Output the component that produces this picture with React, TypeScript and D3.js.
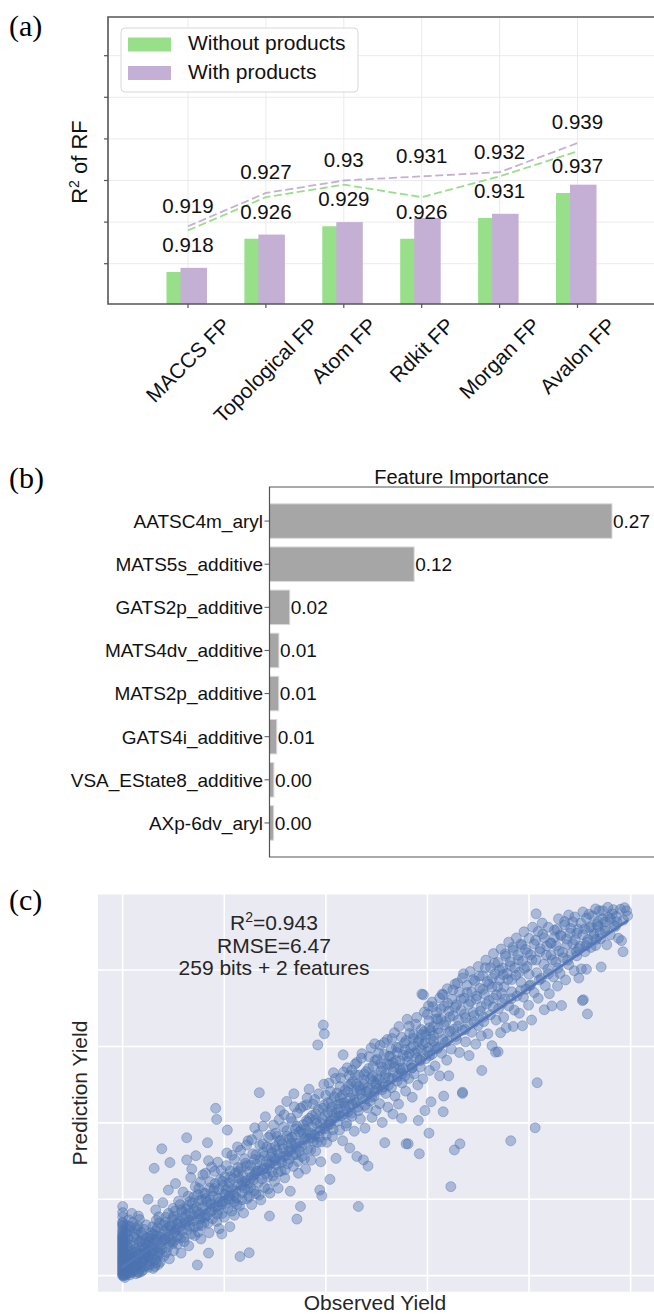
import React, { useEffect, useRef } from 'react';
import * as d3 from 'd3';

const WIDTH = 654;
const HEIGHT = 1314;
const SANS = '"Liberation Sans", Arial, Helvetica, sans-serif';
const SERIF = '"Liberation Serif", "Times New Roman", Times, serif';

// (a) R2 of random forest per fingerprint
const fingerprints = ['MACCS FP', 'Topological FP', 'Atom FP', 'Rdkit FP', 'Morgan FP', 'Avalon FP'];
const withoutProducts = [0.918, 0.926, 0.929, 0.926, 0.931, 0.937];
const withProducts = [0.919, 0.927, 0.93, 0.931, 0.932, 0.939];
const r2Ticks = [0.92, 0.93, 0.94, 0.95, 0.96, 0.97];
const legendLabels = ['Without products', 'With products'];

// (b) feature importance
const features = [
  'AATSC4m_aryl', 'MATS5s_additive', 'GATS2p_additive', 'MATS4dv_additive',
  'MATS2p_additive', 'GATS4i_additive', 'VSA_EState8_additive', 'AXp-6dv_aryl',
];
const importances = [0.274, 0.1157, 0.0162, 0.0075, 0.0074, 0.0058, 0.0035, 0.0033];

// (c) observed vs predicted yield
const yieldTicks = [0, 20, 40, 60, 80, 100];
const fitIntercept = 2.3;
const fitSlope = 0.912;
const fitExtent = [0, 99.3];
const r2Text = '0.943';
const statLines = ['RMSE=6.47', '259 bits + 2 features'];

// [observed, predicted]: outliers and the spread of the band
const yieldPoints: [number, number][] = [
  [0, 0], [0, 1], [0, 2], [0, 3], [0, 4], [0, 5], [0, 6], [0, 7], [0, 8], [0, 9], [0, 10], [0, 11], [0, 12],
  [0, 0.5], [0, 1.5], [0, 2.5], [0, 3.5], [0, 4.5], [0, 5.5], [0, 6.5], [0, 7.5], [0, 8.5], [0, 9.5], [0, 10.5],
  [0, 11.5], [0, 12.8], [0, 14], [0, 18.1], [0.3, 0], [0.5, 1], [0.6, 2.2], [0.8, 3.4], [1, 0.6], [1, 4.8],
  [1.2, 6.3], [1.3, 1.8], [1.5, 8], [1.6, 2.9], [1.8, 0.9], [1.8, 16.3], [2, 5.2], [2.1, 10.2], [2.2, 3.8],
  [2.4, 1.4], [2.5, 7], [2.7, 2.5], [2.9, 12], [3, 4.4], [3.1, 15.6], [3.2, 0.8], [3.3, 8.8], [3.5, 2],
  [3.6, 5.8], [3.8, 3.2], [4, 10.5], [4, 1.5], [4.2, 6.9], [4.4, 4.3], [4.6, 13.3], [4.8, 2.6], [5, 20], [5, 8],
  [5.2, 5.1], [5.4, 3], [5.6, 11.2], [5.8, 6.4], [6, 1.9], [6.2, 28.1], [6.2, 9.2], [6.4, 4.2], [6.6, 14.5],
  [6.8, 7.3], [7, 2.9], [0.2, 0.4], [0.4, 2.8], [0.5, 5.9], [0.7, 1.2], [0.9, 7.8], [1.1, 3], [1.4, 0.2],
  [1.6, 4.5], [1.9, 2.1], [2.3, 6], [2.6, 0.5], [2.8, 4], [3.1, 2.8], [3.4, 6.6], [3.7, 1.1], [4, 3.7],
  [4.3, 5.5], [4.5, 8.6], [4.9, 4.9], [5.1, 2.2], [5.7, 7.6], [6.9, 5.1], [7.5, 7.9], [8.2, 9.4], [9.1, 10.1],
  [9.8, 8.4], [10.5, 11.9], [11.4, 9.8], [12.4, 13.4], [13.1, 14.6], [14.1, 12.7], [15.3, 14.9], [16.5, 15.7],
  [17.6, 17], [18.6, 18.2], [19.7, 19.4], [20.8, 20.1], [21.9, 21], [23.4, 23.6], [24.6, 22.6], [26.1, 26.7],
  [27.8, 28], [29.3, 29.5], [31, 30.2], [32.7, 32.5], [34.2, 33.6], [36, 35.9], [37.7, 37], [39.4, 38.5],
  [41, 40.5], [42.6, 41.9], [44.3, 42.8], [46, 45.3], [47.8, 46.3], [49.6, 48.2], [51.4, 49.4], [53.1, 51.6],
  [55, 52.9], [56.9, 54.3], [58.6, 56.3], [60.4, 57.6], [62.1, 59.8], [63.9, 61.4], [65.6, 62.6], [67.4, 64.4],
  [69.2, 66.3], [71, 67.7], [72.9, 70.3], [74.7, 71.3], [76.5, 72.5], [78.3, 74.6], [80.1, 75.9], [82, 77.4],
  [83.8, 79], [85.7, 80.5], [87.6, 82.6], [89.3, 84.8], [91.2, 86.4], [93.2, 88], [95, 90.9], [97, 91.4],
  [5.3, 3.9], [5.5, 9.6], [5.9, 12.8], [6.1, 5.6], [6.3, 2.4], [6.5, 17.2], [6.7, 10.4], [7, 6.2], [7.2, 13.8],
  [7.4, 3.6], [7.7, 33.2], [7.6, 8.9], [7.9, 19.1], [8.1, 5.1], [8.3, 11.6], [8.5, 15.3], [8.8, 7.4], [9, 22.4],
  [9.2, 4.4], [9.3, 29.6], [9.4, 13], [9.6, 9.2], [9.9, 17.6], [10, 6.5], [10.2, 11.3],
  [10.4, 24.1], [10.6, 14.7], [10.8, 8.2], [11, 19.5], [11.2, 12.6], [11.5, 5.9], [11.7, 16.8], [11.9, 21.9],
  [12.1, 10], [12.3, 14], [12.6, 36.1], [12.6, 30.3], [12.8, 18.3], [13, 7.8], [13.2, 12.9], [13.4, 25.7],
  [13.6, 27.9], [13.8, 15.6], [14, 20.6], [14.2, 10.5], [14.4, 31.4], [14.5, 17.9], [14.7, 2.8], [14.8, 13.1],
  [15, 22.8], [15.2, 16.2], [15.4, 9.6], [15.6, 19.8], [15.8, 26.4], [16, 13.7], [16.2, 21.5], [16.4, 17.4],
  [16.7, 34.8], [16.9, 30.1], [16.9, 5.9], [17, 11.2], [17.2, 24.6], [17.4, 18.8], [17.7, 14.9], [17.9, 22.2],
  [18.1, 27.3], [18.3, 43.8], [18.5, 40.9], [18.6, 16.1], [18.8, 20.3], [19, 12.3], [19.2, 25.1], [19.5, 10.9],
  [19.5, 18.7], [19.8, 23.6], [20, 15.3], [20.2, 21.2], [20.4, 28.8], [20.6, 38.1], [20.7, 17.6], [21, 24.3],
  [21.1, 12.8], [21.3, 19.9], [21.5, 31.5], [21.7, 22.6], [22, 15.8], [22.2, 26.9], [22.4, 20.4], [22.6, 33.7],
  [22.8, 23.9], [23.1, 5], [23, 18.2], [23.3, 28.2], [23.5, 21.7], [23.8, 16.4], [24, 30.6], [24.2, 24.8],
  [24.5, 20.1], [24.9, 6], [24.7, 35.3], [25, 27.2], [25.2, 22.9], [25.4, 18.6], [25.6, 31.9], [25.8, 26.3],
  [26, 38.7], [26.2, 21.4], [26.4, 29.2], [26.7, 24.4], [26.9, 47.9], [27, 34.1], [27.2, 19.8], [27.4, 27.7],
  [27.6, 32.3], [27.9, 23.1], [28.1, 41.6], [28.3, 29.9], [28.5, 25.8], [28.9, 15.6], [28.7, 36.2], [29, 21.6],
  [29.2, 31.1], [29.4, 27.2], [29.7, 39.4], [29.9, 24.7], [30, 33.8], [30.2, 29], [30.4, 36.5], [30.6, 22.9],
  [30.8, 31.8], [31, 43.2], [31.2, 27.4], [31.4, 34.3], [31.7, 38.9], [31.9, 25.6], [32.1, 31.4], [32.3, 45.6],
  [32.5, 29.3], [32.8, 35.8], [33, 22.1], [33.2, 33], [33.4, 40.3], [33.7, 47.6], [33.6, 28.6], [33.9, 36.9],
  [34.1, 31.7], [34.3, 14.8], [34.4, 42.6], [34.6, 26.8], [34.8, 34.7], [35, 18.1], [35.1, 38.2], [35.3, 31.2],
  [35.5, 44.3], [35.7, 35.6], [36, 27.9], [36.2, 44.7], [36.2, 40.6], [36.4, 33.1], [36.7, 48.8], [36.9, 37.4],
  [37.1, 30.2], [37.3, 41.9], [37.6, 35.2], [37.8, 46.1], [38, 32.6], [38.2, 39.8], [38.4, 60.4], [38.5, 43.5],
  [38.8, 22.4], [38.7, 36.3], [39, 29.8], [39.2, 20.9], [39.3, 41.1], [39.5, 65.6], [39.7, 63.3], [39.8, 38.4],
  [40, 47.2], [40.2, 34.9], [40.4, 42.7], [40.8, 25.2], [40.6, 50.4], [40.9, 39.6], [41.1, 45.5], [41.3, 36.4],
  [41.5, 53.1], [41.8, 41.3], [42, 30.7], [42.2, 47.8], [42.4, 43.6], [42.7, 38.1], [42.9, 51.7], [43.1, 45.1],
  [43.4, 57.8], [43.3, 35.3], [43.6, 42.4], [43.8, 48.6], [44, 39.2], [44.2, 54.4], [44.5, 44.8], [44.7, 33.4],
  [44.9, 50.2], [45.1, 53.8], [45.1, 41.7], [45.4, 47.4], [45.6, 37.8], [45.8, 52.6], [46.1, 55.8], [46.1, 31.2],
  [46.3, 44.1], [46.4, 18.1], [46.5, 49.6], [46.8, 41], [47, 56.9], [47.2, 46.3], [47.4, 30.3], [47.5, 51.3],
  [47.7, 38.6], [48, 48.2], [48.3, 28.7], [48.2, 43.9], [48.4, 54.2], [48.7, 45.7], [48.9, 59.6], [49.1, 41.4],
  [49.3, 50.9], [49.5, 47], [49.7, 56.3], [49.9, 43.2], [50, 52.4], [50.2, 48.8], [50.4, 58.3], [50.6, 45],
  [50.9, 53.6], [51.1, 40.1], [51.3, 50.3], [51.6, 34.8], [51.5, 61], [51.8, 47.7], [52, 55.4], [52.2, 44.1],
  [52.4, 51.8], [52.7, 57.5], [53, 62.1], [52.9, 49.2], [53.2, 42.3], [53.4, 54.6], [53.6, 47], [53.9, 59.8],
  [54.1, 52.1], [54.4, 65.2], [54.3, 44.9], [54.6, 56.2], [54.9, 41.2], [55, 50.4], [55.2, 54.3], [55.5, 60.9],
  [55.8, 34.5], [55.7, 48.3], [56, 67.1], [56, 57.4], [56.2, 34.5], [56.3, 51.6], [56.5, 63.4], [56.8, 55.2],
  [57, 46.7], [57.2, 60.2], [57.4, 52.8], [57.7, 65.8], [57.9, 57.1], [58.2, 40.6], [58.1, 49.9], [58.4, 31.9],
  [58.3, 61.8], [58.6, 54.6], [58.9, 73.7], [58.8, 59.1], [59.2, 73.5], [59.1, 51.5], [59.5, 43.2], [59.4, 63.9],
  [59.7, 56.8], [60, 68.4], [60.2, 70.6], [60.1, 59.6], [60.3, 37.3], [60.4, 53.7], [60.7, 45.5], [60.6, 64.1],
  [60.9, 57.9], [61.1, 70.4], [61.2, 61.3], [61.5, 54.9], [61.7, 67.2], [61.9, 59.4], [62.2, 63.5], [62.4, 52.3],
  [62.6, 69.8], [62.9, 73.7], [62.8, 58.2], [63.1, 42.9], [63.1, 73.5], [63.2, 47], [63.3, 65.6], [63.5, 61.1],
  [63.8, 56.4], [64, 71.3], [64.2, 52.3], [64.2, 63.8], [64.4, 67.7], [64.6, 23.3], [64.7, 59.3], [65, 74.8],
  [65.3, 32.9], [65.2, 64.5], [65.4, 70.2], [65.7, 61.8], [65.9, 76.6], [66.1, 66.9], [66.4, 34.5], [66.3, 58.4],
  [66.6, 72.3], [66.9, 47.7], [66.9, 48], [66.8, 64.2], [67.1, 79], [67.3, 68.5], [67.5, 61.2], [67.8, 74.1],
  [68, 66], [68.2, 57.6], [68.5, 71.7], [68.7, 63.7], [69, 77.5], [69.2, 68.1], [69.5, 60.6], [69.7, 73.2],
  [70, 65.5], [70.2, 78.4], [70.4, 69.2], [70.7, 53.7], [70.6, 62.8], [70.9, 74.9], [71.1, 66.5], [71.4, 80.6],
  [71.6, 71.1], [71.9, 63.3], [72.1, 76.3], [72.4, 68.3], [72.8, 77.9], [72.7, 60.2], [73, 72.6], [73.4, 58.5],
  [73.2, 81.8], [73.5, 66.9], [73.9, 58.6], [73.8, 75.6], [74.2, 80], [74, 69.9], [74.4, 63.6], [74.6, 73.9],
  [74.9, 78.8], [75, 67.6], [75.3, 84.2], [75.2, 72.4], [75.5, 64.9], [75.8, 77.5], [76, 70.6], [76.4, 35.3],
  [76.3, 81.1], [76.6, 74.3], [76.9, 65.2], [76.8, 85.9], [77.1, 69.5], [77.4, 78.6], [77.6, 73.2], [77.9, 82.7],
  [78.1, 68.7], [78.7, 65.4], [78.4, 76.8], [78.6, 86.5], [78.9, 72.9], [79.1, 80.4], [79.4, 75], [79.7, 84.5],
  [79.9, 70.8], [80, 78.9], [80.5, 66.9], [80.3, 76.1], [80.6, 82.6], [81, 74.1], [81.2, 38.7], [81.4, 94.7],
  [81.6, 50.5], [81.3, 87.8], [81.5, 79.3], [81.8, 72.6], [82.1, 84.8], [82.4, 77.8], [82.7, 89.4], [83, 69.6],
  [82.9, 81.5], [83.2, 75.9], [83.5, 86.3], [83.7, 80.2], [84.4, 87], [84, 73.8], [84.3, 83.9], [84.5, 70.6],
  [84.8, 78.2], [85, 88.6], [85.3, 82.1], [85.6, 75.8], [85.5, 90.7], [85.9, 85], [86.1, 79.1], [86.4, 70.7],
  [86.3, 88.9], [86.7, 83.2], [87, 91.8], [87.2, 77.4], [87.5, 86.7], [87.8, 81.4], [88.1, 89.6], [88.3, 84.3],
  [88.6, 92.6], [88.9, 79.8], [89.1, 87.9], [89.4, 83.7], [89.8, 77.9], [89.7, 90.6], [90, 86.2], [90.3, 80.3],
  [90.5, 72], [90.7, 72.2], [90.6, 89.2], [91, 84.8], [91.3, 93.6], [91.3, 80.2], [91.5, 68.5], [91.6, 88],
  [91.9, 91.1], [92.2, 85.9], [92.5, 94.2], [92.8, 89.5], [93.1, 86.4], [93.4, 91.9], [93.6, 91.4], [93.8, 95.5],
  [94.2, 80.8], [94.1, 88.2], [94.5, 93.4], [94.9, 90.3], [95.3, 86.6], [95.6, 93.8], [96, 89.2], [96.4, 94.7],
  [96.8, 91.6], [97.2, 94], [97.6, 88.3], [98.2, 87.7], [98.5, 84.8], [98.6, 93.1], [99.2, 95.5], [99.4, 94.2],
];

// [observed, predicted], the dense core of the band
const yieldPointsCore: [number, number][] = [
  [0, 0.2], [0, 1.2], [0, 2.2], [0, 3.2], [0, 4.2], [0, 5.2], [0, 6.2], [0, 7.2], [0, 8.2], [0, 9.2], [0, 10.2],
  [0, 13.2], [0, 15.4], [0.4, -0.5], [0.6, 0.3], [0.8, 1.6], [1, 2.4], [1.2, 3.9], [1.3, 5.2], [1.5, 0.8],
  [1.7, 6.8], [1.9, 3.3], [2.1, 1.5], [2.2, 8.4], [2.4, 4.6], [2.6, 2.6], [2.8, 9.6], [3, 0.9], [3.2, 5.7],
  [3.4, 3.5], [3.6, 11.3], [3.8, 7.5], [4.1, 2.3], [4.3, 4.7], [4.6, 6.1], [4.8, 9.9], [0.3, 6.9], [0.5, 8.8],
  [0.7, 11.2], [0.9, 13.1], [1.1, 9.5], [1.4, 11.8], [2, 13.9], [2.6, 12.5], [3.3, 14.7], [4.2, 12.1],
  [5.1, 6.7], [5.4, 10.3], [5.6, 4.5], [5.9, 8.3], [6.2, 6.9], [6.4, 11.7], [6.6, 3.4], [6.9, 9.4], [7.1, 15.4],
  [7.3, 5.8], [7.5, 11], [7.8, 7.1], [8, 13.2], [8.3, 9.7], [8.6, 6.1], [8.8, 12.4], [9, 16.3], [9.3, 8.8],
  [9.5, 11.9], [9.8, 14.7], [10.1, 9.1], [10.3, 16.9], [10.6, 12.2], [10.9, 10.4], [11.1, 14.3], [11.3, 18.6],
  [11.6, 11.6], [11.9, 15.1], [12.1, 8.9], [12.4, 17.5], [12.7, 12], [12.9, 20.8], [13.2, 16.4], [13.5, 10.9],
  [13.7, 19], [14, 14.4], [14.3, 23.3], [14.6, 16.8], [14.9, 11.4], [15, 19.6],
  [15.3, 24.5], [15.5, 13.1], [15.7, 17.9], [15.9, 21.7], [16.1, 15.2], [16.3, 26.8], [16.6, 19.3], [16.8, 13.8],
  [17.1, 22.9], [17.3, 16.6], [17.5, 28.4], [17.8, 20.8], [18, 18], [18.2, 24.1], [18.5, 14.2], [18.7, 29.7],
  [18.9, 22.5], [19.1, 19.3], [19.4, 27.6], [19.6, 16.3], [19.9, 21.3], [20.1, 25.9], [20.3, 18.9], [20.5, 32.1],
  [20.8, 23.2], [21, 20.9], [21.2, 27.4], [21.5, 16.9], [21.7, 25.4], [22, 30.4], [22.3, 22.1], [22.5, 18.6],
  [22.7, 28.3], [22.9, 25.5], [23.2, 32.8], [23.5, 19.9], [23.7, 26.2], [24, 22.8], [24.2, 29.4], [24.4, 34.2],
  [24.7, 24.2], [24.9, 20.7], [25.2, 28.9], [25.4, 35.6], [25.7, 25], [25.9, 22.2], [26.2, 31.6], [26.4, 27.4],
  [26.6, 36.9], [26.9, 21.1], [27.1, 30.3], [27.4, 25.3], [27.6, 39.1], [27.9, 31.4], [28.1, 26.6], [28.4, 33.7],
  [28.6, 22.7], [28.9, 29.1], [29.1, 36.8], [29.4, 32.2], [29.6, 26.1], [29.9, 30.7],
  [30.1, 37.3], [30.3, 32.9], [30.6, 27.1], [30.8, 40.8], [31.1, 35.5], [31.3, 29.6], [31.6, 33.2], [31.8, 42.1],
  [32, 27.7], [32.3, 37.9], [32.6, 33.8], [32.8, 30.4], [33.1, 41.2], [33.3, 36.2], [33.5, 31.5], [33.8, 44.2],
  [34, 34.6], [34.3, 39.1], [34.5, 29.9], [34.8, 37.6], [35, 43.8], [35.2, 33.9], [35.5, 39.5], [35.8, 30.6],
  [36, 38.3], [36.3, 46.5], [36.6, 35.8], [36.8, 41.2], [37, 32.9], [37.3, 38.9], [37.5, 44.9], [37.8, 36.7],
  [38, 42.3], [38.3, 34.9], [38.6, 47.6], [38.9, 39.9], [39.1, 35], [39.4, 43.8], [39.6, 50.1], [39.9, 41.9],
  [40.1, 36.8], [40.4, 45.3], [40.7, 40.2], [40.9, 48.2], [41.2, 42.9], [41.4, 38.2], [41.7, 46.8], [41.9, 51.6],
  [42.2, 40.4], [42.5, 44.9], [42.8, 49.5], [43, 41.8], [43.3, 47.3], [43.5, 53.3], [43.8, 44.4], [44.1, 39.9],
  [44.3, 48.1], [44.6, 52.4], [44.8, 46.5], [45, 42.5],
  [45.3, 50.8], [45.6, 45.9], [45.8, 55.4], [46.1, 48.4], [46.4, 43.2], [46.6, 52.5], [46.9, 47.6], [47.1, 58.1],
  [47.4, 50.1], [47.7, 44.6], [47.9, 53.4], [48.2, 49.1], [48.5, 57.3], [48.8, 51.5], [49, 46.7], [49.3, 54.9],
  [49.6, 60.7], [49.8, 50.3], [50.1, 56.6], [50.4, 51.4], [50.7, 60.3], [51, 48.6], [51.2, 54.5], [51.5, 57.9],
  [51.8, 52.9], [52.1, 61.8], [52.3, 49.8], [52.6, 55.3], [52.9, 59.3], [53.2, 53.4], [53.5, 63.6], [53.8, 56.3],
  [54, 50.9], [54.3, 59.7], [54.6, 54.2], [54.9, 62.4], [55.2, 57.7], [55.5, 52.2], [55.8, 61.5], [56.1, 56.1],
  [56.4, 65.3], [56.7, 59.6], [57, 54.4], [57.3, 63.1], [57.6, 58.3], [57.9, 67.6], [58.2, 61.3], [58.5, 56.5],
  [58.8, 64.4], [59.1, 60.5], [59.4, 69], [59.7, 63.1], [60, 58.6], [60.3, 66.7], [60.6, 61.9], [60.9, 71.6],
  [61.2, 65.2], [61.5, 60], [61.8, 68.9], [62.1, 64.6], [62.4, 72.7], [62.7, 67.1], [63, 61.8], [63.3, 70.5],
  [63.6, 66.5], [63.9, 75.1], [64.2, 69.2], [64.5, 64], [64.8, 72.4], [65.1, 68.1], [65.4, 76.3], [65.7, 70.9],
  [66, 65.3], [66.3, 74.2], [66.6, 69.5], [66.9, 77.9], [67.2, 72.6], [67.5, 67.5], [67.8, 76], [68.1, 71],
  [68.4, 79.6], [68.7, 74.3], [69, 68.9], [69.3, 77.1], [69.6, 72.4],
  [70, 80.9], [70.3, 75.2], [70.6, 70.4], [70.9, 78.5], [71.2, 73.7], [71.5, 82.6], [71.8, 77], [72.1, 72],
  [72.4, 80.6], [72.7, 75.5], [73, 84.3], [73.3, 79], [73.6, 73.5], [73.9, 82], [74.2, 77.4], [74.5, 85.5],
  [74.8, 80.5], [75.1, 75.6], [75.4, 83.6], [75.7, 79.1], [76, 87.3], [76.3, 82.2], [76.6, 77.5], [76.9, 85.1],
  [77.2, 80.6], [77.5, 88.4], [77.8, 83.9], [78.1, 79.4], [78.4, 86.8], [78.7, 82.3], [79, 90], [79.3, 85.4],
  [79.6, 80.9], [80, 88.3], [80.3, 84], [80.7, 91.2], [81, 86.8], [81.4, 82.6], [81.8, 90.1], [82.2, 85.6],
  [82.6, 92.3], [83, 88.4], [83.4, 83.9], [83.8, 91.2], [84.2, 87.1], [84.6, 82.7], [85, 90.4], [85.4, 86.3],
  [85.8, 93.4], [86.2, 89.2], [86.6, 84.6], [87, 92.7], [87.4, 88.1], [87.8, 94.4], [88.2, 90.9], [88.6, 86.9],
  [89, 93.9], [89.4, 89.6], [89.8, 85.6], [90.2, 92.3], [90.6, 95.2], [91, 90.8], [91.4, 87.3], [91.8, 94.6],
  [92.2, 91.4], [92.7, 88.9], [93.1, 96], [93.6, 92.7], [94, 89.8], [94.5, 95.5], [95, 92.6], [95.5, 96.4],
  [96, 93.4], [96.6, 95.8], [97.3, 92.6], [98, 95.9], [98.8, 96.3],
];

// [observed, predicted], extra points where the low/mid band is darkest
const yieldPointsBand: [number, number][] = [
  [0.2, 3.7], [0.4, 9.6], [0.6, 12.2], [1, 10.7], [1.5, 12.9], [2.3, 11.1], [3, 13], [1.2, 14.6], [0.8, 5.4],
  [2.7, 6.1], [3.9, 9.4], [0, 16.5], [0, 13.8],
  [3.5, 9.1], [4.4, 7.2], [5.2, 8.8], [6, 10.8], [6.8, 12.6], [7.6, 10.1], [8.4, 14], [9.2, 12.9], [10, 15.5],
  [10.8, 13.7], [11.6, 17.2], [12.4, 15.8], [13.2, 19.4], [14, 17.3], [14.8, 21.2], [15.6, 15.4], [16.4, 20.2],
  [17.2, 19.9], [18, 22.8], [18.8, 17.1], [19.6, 24.7], [20.4, 22.5], [21.2, 25.9], [22, 19.4], [22.8, 27.2],
  [23.6, 24.6], [24.4, 28.8], [25.2, 25.6], [26, 30.4], [26.8, 27.4], [27.6, 34.5], [28.4, 28.1], [29.2, 33.4],
  [30, 30.1], [30.8, 35.2], [31.6, 31.2], [32.4, 36.5], [33.2, 34.6], [34, 38.4], [34.8, 32.6], [35.6, 37.3],
  [36.4, 40.2], [37.2, 36], [38, 40.8], [38.8, 38], [39.6, 44.6], [40.4, 39.4], [41.2, 44.1], [42, 42.7],
  [42.8, 46.6], [43.6, 45.3], [44.4, 49.7], [45.2, 44.9], [46, 50.1], [46.8, 48.7], [47.6, 52.7], [48.4, 48.6],
  [49.2, 52.2], [50, 49.9], [50.8, 55.5], [51.6, 51.8], [52.4, 57.4], [53.2, 55.8], [54, 58.4], [54.8, 53.7],
  [55.6, 59.1], [56.4, 58.1], [57.2, 62.1], [58, 58.9], [58.8, 63.1], [59.6, 61], [60.4, 64.9], [61.2, 62.8],
  [62, 67.2],
];

const panelLetter = (svg, label, x, y) => {
  svg.append('text')
    .attr('x', x).attr('y', y)
    .attr('font-family', SERIF).attr('font-size', 30)
    .attr('fill', '#000')
    .text(label);
};

function drawPanelA(svg) {
  const g = svg.append('g');
  const left = 108, top = 17, bottom = 304, right = WIDTH + 20;
  const x = d3.scalePoint().domain(fingerprints).range([188, 577.5]);
  const y = d3.scaleLinear().domain([0.91, 0.98]).range([305.3, 14.1]);
  const colors = ['#98df8a', '#c5b0d5'];

  // grid
  g.append('g').selectAll('line').data(r2Ticks).join('line')
    .attr('x1', left).attr('x2', right)
    .attr('y1', d => y(d)).attr('y2', d => y(d))
    .attr('stroke', '#ebebeb').attr('stroke-width', 1);
  g.append('g').selectAll('line').data(fingerprints).join('line')
    .attr('x1', d => x(d)).attr('x2', d => x(d))
    .attr('y1', top).attr('y2', bottom)
    .attr('stroke', '#ebebeb').attr('stroke-width', 1);

  // bars: purple drawn over green
  const bw = 26.5;
  const offsets = [-21.5, -7.5];
  [withoutProducts, withProducts].forEach((vals, k) => {
    g.append('g').selectAll('rect').data(vals).join('rect')
      .attr('x', (d, i) => x(fingerprints[i]) + offsets[k])
      .attr('y', d => y(d))
      .attr('width', bw)
      .attr('height', d => bottom - y(d))
      .attr('fill', colors[k]);
  });

  // dashed trend lines, lifted 0.01 above the bars
  const line = d3.line().x(d => d[0]).y(d => d[1]);
  [withoutProducts, withProducts].forEach((vals, k) => {
    g.append('path')
      .attr('d', line(vals.map((v, i) => [x(fingerprints[i]), y(v + 0.01)])))
      .attr('fill', 'none')
      .attr('stroke', colors[k])
      .attr('stroke-width', 1.8)
      .attr('stroke-dasharray', '8,3.6');
  });

  // value labels: purple above line, green below
  const fmt = v => String(+v.toFixed(3));
  g.append('g').selectAll('text').data(withProducts).join('text')
    .attr('x', (d, i) => x(fingerprints[i]))
    .attr('y', d => y(d + 0.01) - 21)
    .attr('dy', '0.36em')
    .attr('text-anchor', 'middle')
    .attr('font-family', SANS).attr('font-size', 20.5).attr('fill', '#111')
    .text(fmt);
  g.append('g').selectAll('text').data(withoutProducts).join('text')
    .attr('x', (d, i) => x(fingerprints[i]))
    .attr('y', d => y(d + 0.01) + 14)
    .attr('dy', '0.36em')
    .attr('text-anchor', 'middle')
    .attr('font-family', SANS).attr('font-size', 20.5).attr('fill', '#111')
    .text(fmt);

  // spines + ticks
  g.append('path')
    .attr('d', `M${right},${top}H${left}V${bottom}H${right}`)
    .attr('fill', 'none').attr('stroke', '#555').attr('stroke-width', 1.6);
  g.append('g').selectAll('line').data(r2Ticks).join('line')
    .attr('x1', left - 4).attr('x2', left)
    .attr('y1', d => y(d)).attr('y2', d => y(d))
    .attr('stroke', '#555').attr('stroke-width', 1.2);
  g.append('g').selectAll('line').data(fingerprints).join('line')
    .attr('x1', d => x(d)).attr('x2', d => x(d))
    .attr('y1', bottom).attr('y2', bottom + 4)
    .attr('stroke', '#555').attr('stroke-width', 1.2);

  // legend
  const lg = g.append('g');
  lg.append('rect')
    .attr('x', 121).attr('y', 28).attr('width', 237).attr('height', 64).attr('rx', 4)
    .attr('fill', '#fff').attr('fill-opacity', 0.9)
    .attr('stroke', '#d8d8d8').attr('stroke-width', 1);
  legendLabels.forEach((lab, k) => {
    lg.append('rect')
      .attr('x', 128).attr('y', 37.5 + k * 28.5).attr('width', 43).attr('height', 14)
      .attr('fill', colors[k]);
    lg.append('text')
      .attr('x', 188).attr('y', 50 + k * 28.5)
      .attr('font-family', SANS).attr('font-size', 21).attr('fill', '#111')
      .text(lab);
  });

  // y label
  const yl = g.append('text')
    .attr('transform', 'translate(87,162) rotate(-90)')
    .attr('text-anchor', 'middle')
    .attr('font-family', SANS).attr('font-size', 22).attr('fill', '#111');
  yl.append('tspan').text('R');
  yl.append('tspan').attr('font-size', 14).attr('dy', -8).text('2');
  yl.append('tspan').attr('dy', 8).text(' of RF');

  // rotated x tick labels, bbox centred on tick
  g.append('g').selectAll('text').data(fingerprints).join('text')
    .attr('font-family', SANS).attr('font-size', 21).attr('fill', '#111')
    .attr('text-anchor', 'middle')
    .attr('dy', '0.35em')
    .text(d => d)
    .each(function (d) {
      const w = this.getComputedTextLength();
      const cx = x(d);
      const cy = 315 + (w + 19) * 0.3536;
      d3.select(this).attr('x', cx).attr('y', cy)
        .attr('transform', `rotate(-45,${cx},${cy})`);
    });
}

function drawPanelB(svg) {
  const g = svg.append('g');
  const left = 269.5, top = 487, bottom = 857, right = WIDTH + 20;
  const x = d3.scaleLinear().domain([0, 0.3]).range([left, left + 375]);
  const y = d3.scaleBand().domain(features).range([499.5, 844.5]).paddingInner(0.2).paddingOuter(0.1);
  const fmt = d3.format('.2f');

  g.append('text')
    .attr('x', 461.5).attr('y', 484)
    .attr('text-anchor', 'middle')
    .attr('font-family', SANS).attr('font-size', 20).attr('fill', '#111')
    .text('Feature Importance');

  g.append('g').selectAll('rect').data(importances).join('rect')
    .attr('x', left)
    .attr('y', (d, i) => y(features[i]))
    .attr('width', d => x(d) - left)
    .attr('height', y.bandwidth())
    .attr('fill', '#a6a6a6')
    .attr('stroke', '#dadada').attr('stroke-width', 1);

  g.append('path')
    .attr('d', `M${right},${top}H${left}V${bottom}H${right}`)
    .attr('fill', 'none').attr('stroke', '#555').attr('stroke-width', 1.2);

  const mid = f => y(f) + y.bandwidth() / 2;
  g.append('g').selectAll('line').data(features).join('line')
    .attr('x1', left - 5).attr('x2', left)
    .attr('y1', mid).attr('y2', mid)
    .attr('stroke', '#555').attr('stroke-width', 1);
  g.append('g').selectAll('text').data(features).join('text')
    .attr('x', left - 6.5).attr('y', mid).attr('dy', '0.36em')
    .attr('text-anchor', 'end')
    .attr('font-family', SANS).attr('font-size', 19).attr('fill', '#111')
    .text(d => d);
  g.append('g').selectAll('text').data(importances).join('text')
    .attr('x', d => x(d) + 1)
    .attr('y', (d, i) => mid(features[i])).attr('dy', '0.36em')
    .attr('font-family', SANS).attr('font-size', 19).attr('fill', '#111')
    .text(d => fmt(d));
}

function drawPanelC(svg) {
  const g = svg.append('g');
  const x = d3.scaleLinear().domain([-4.86, 104.6]).range([98, 654]);
  const y = d3.scaleLinear().domain([-4.2, 99.9]).range([1291.7, 894]);
  const blue = '#4c72b0';
  const ink = '#262626';

  g.append('rect')
    .attr('x', 98).attr('y', 894)
    .attr('width', WIDTH - 98 + 20).attr('height', 1291.7 - 894)
    .attr('fill', '#eaeaf2');
  g.append('g').selectAll('line').data(yieldTicks).join('line')
    .attr('x1', d => x(d)).attr('x2', d => x(d))
    .attr('y1', 894).attr('y2', 1291.7)
    .attr('stroke', '#fff').attr('stroke-width', 1.6);
  g.append('g').selectAll('line').data(yieldTicks).join('line')
    .attr('x1', 98).attr('x2', WIDTH + 20)
    .attr('y1', d => y(d)).attr('y2', d => y(d))
    .attr('stroke', '#fff').attr('stroke-width', 1.6);

  g.append('g').selectAll('circle')
    .data([...yieldPoints, ...yieldPointsCore, ...yieldPointsBand]).join('circle')
    .attr('cx', d => x(d[0])).attr('cy', d => y(d[1]))
    .attr('r', 5)
    .attr('fill', blue).attr('fill-opacity', 0.42)
    .attr('stroke', blue).attr('stroke-opacity', 0.5).attr('stroke-width', 0.8);

  g.append('line')
    .attr('x1', x(fitExtent[0])).attr('y1', y(fitIntercept + fitSlope * fitExtent[0]))
    .attr('x2', x(fitExtent[1])).attr('y2', y(fitIntercept + fitSlope * fitExtent[1]))
    .attr('stroke', '#5577b8').attr('stroke-width', 2.6).attr('stroke-linecap', 'round');

  const r2 = g.append('text')
    .attr('x', 274).attr('y', 930)
    .attr('text-anchor', 'middle')
    .attr('font-family', SANS).attr('font-size', 21).attr('fill', ink);
  r2.append('tspan').text('R');
  r2.append('tspan').attr('font-size', 14).attr('dy', -8).text('2');
  r2.append('tspan').attr('dy', 8).text('=' + r2Text);
  statLines.forEach((t, i) => {
    g.append('text')
      .attr('x', 274).attr('y', 952.5 + i * 22.5)
      .attr('text-anchor', 'middle')
      .attr('font-family', SANS).attr('font-size', 21).attr('fill', ink)
      .text(t);
  });

  g.append('text')
    .attr('x', 375).attr('y', 1310)
    .attr('text-anchor', 'middle')
    .attr('font-family', SANS).attr('font-size', 21).attr('fill', ink)
    .text('Observed Yield');
  g.append('text')
    .attr('transform', 'translate(87,1093) rotate(-90)')
    .attr('text-anchor', 'middle')
    .attr('font-family', SANS).attr('font-size', 21).attr('fill', ink)
    .text('Prediction Yield');
}

const App = () => {
  const svgRef = useRef(null);

  useEffect(() => {
    document.body.style.margin = '0';
    const svg = d3.select(svgRef.current);
    svg.selectAll('*').remove();

    drawPanelA(svg);
    drawPanelB(svg);
    drawPanelC(svg);

    panelLetter(svg, '(a)', 9, 36);
    panelLetter(svg, '(b)', 9, 488);
    panelLetter(svg, '(c)', 9, 910);
  }, []);

  return (
    <svg
      ref={svgRef}
      width={WIDTH}
      height={HEIGHT}
      style={{ display: 'block', background: '#fff' }}
    />
  );
};

export default App;
